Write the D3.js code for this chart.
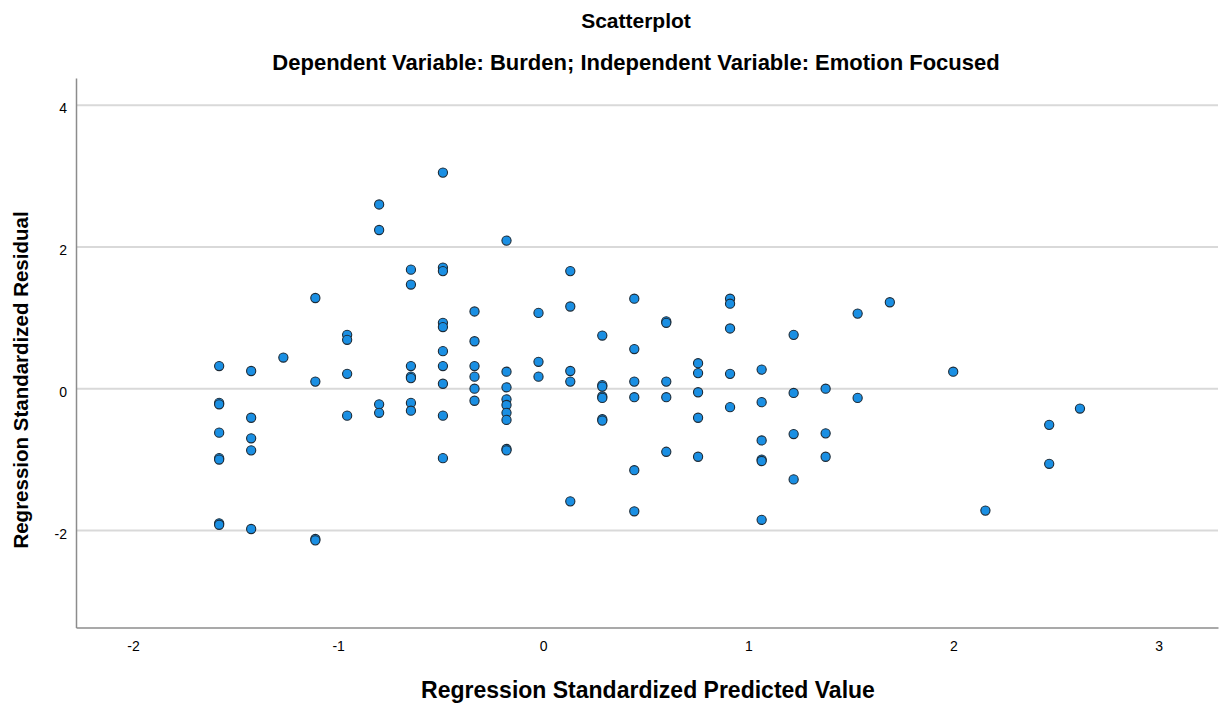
<!DOCTYPE html>
<html>
<head>
<meta charset="utf-8">
<script src="https://cdn.jsdelivr.net/npm/d3@7"></script>
<style>
html,body{margin:0;padding:0;background:#fff;}
text{font-family:"Liberation Sans",Arial,sans-serif;}
</style>
</head>
<body>
<svg id="chart" width="1221" height="704"></svg>
<script>
const title = "Scatterplot";
const subtitle = "Dependent Variable: Burden; Independent Variable: Emotion Focused";
const xTitle = "Regression Standardized Predicted Value";
const yTitle = "Regression Standardized Residual";
const xTicks = [-2, -1, 0, 1, 2, 3];
const yTicks = [-2, 0, 2, 4];
const xDomain = [-2.278, 3.29];
const yDomain = [-3.37, 4.385];

// predicted values (x) and residuals (y), one entry per case
const predicted = [
  -1.580,-1.580,-1.580,-1.580,-1.580,-1.580,-1.580,-1.580,
  -1.424,-1.424,-1.424,-1.424,-1.424,
  -1.267,
  -1.111,-1.111,-1.111,-1.111,
  -0.956,-0.956,-0.956,-0.956,
  -0.800,-0.800,-0.800,-0.800,
  -0.645,-0.645,-0.645,-0.645,-0.645,-0.645,-0.645,
  -0.489,-0.489,-0.489,-0.489,-0.489,-0.489,-0.489,-0.489,-0.489,-0.489,
  -0.335,-0.335,-0.335,-0.335,-0.335,-0.335,
  -0.179,-0.179,-0.179,-0.179,-0.179,-0.179,-0.179,-0.179,-0.179,
  -0.023,-0.023,-0.023,
  0.132,0.132,0.132,0.132,0.132,
  0.288,0.288,0.288,0.288,0.288,0.288,0.288,
  0.444,0.444,0.444,0.444,0.444,0.444,
  0.600,0.600,0.600,0.600,0.600,
  0.755,0.755,0.755,0.755,0.755,
  0.911,0.911,0.911,0.911,0.911,
  1.065,1.065,1.065,1.065,1.065,1.065,
  1.221,1.221,1.221,1.221,
  1.377,1.377,1.377,
  1.533,1.533,
  1.690,
  1.999,
  2.156,
  2.467,2.467,
  2.617
];
const residual = [
  0.32,-0.20,-0.22,-0.62,-0.98,-1.00,-1.90,-1.92,
  0.25,-0.41,-0.70,-0.87,-1.98,
  0.44,
  1.28,0.10,-2.12,-2.14,
  0.76,0.69,0.21,-0.38,
  2.60,2.24,-0.22,-0.34,
  1.68,1.47,0.32,0.17,0.15,-0.20,-0.31,
  3.05,1.71,1.66,0.93,0.87,0.53,0.32,0.07,-0.38,-0.98,
  1.09,0.67,0.32,0.17,0.00,-0.17,
  2.09,0.24,0.02,-0.15,-0.23,-0.34,-0.44,-0.85,-0.87,
  1.07,0.38,0.17,
  1.66,1.16,0.25,0.10,-1.59,
  0.75,0.05,0.03,-0.11,-0.13,-0.43,-0.45,
  1.27,0.56,0.10,-0.12,-1.15,-1.73,
  0.95,0.93,0.10,-0.12,-0.89,
  0.36,0.22,-0.05,-0.41,-0.96,
  1.27,1.20,0.85,0.21,-0.26,
  0.27,-0.19,-0.73,-1.00,-1.02,-1.85,
  0.76,-0.06,-0.64,-1.28,
  0.00,-0.63,-0.96,
  1.06,-0.13,
  1.22,
  0.24,
  -1.72,
  -0.51,-1.06,
  -0.28
];

const svg = d3.select("#chart");
const plotLeft = 76, plotRight = 1218, plotTop = 78, plotBottom = 627.5;

const x = d3.scaleLinear().domain(xDomain).range([plotLeft, plotRight]);
const y = d3.scaleLinear().domain(yDomain).range([plotBottom, plotTop]);
const fmt = d => String(d); // plain hyphen minus as in the original

// gridlines
svg.append("g").selectAll("line").data(yTicks).join("line")
  .attr("x1", plotLeft).attr("x2", plotRight)
  .attr("y1", d => y(d)).attr("y2", d => y(d))
  .attr("stroke", "#d9d9d9").attr("stroke-width", 2);

// axes
const yAxis = d3.axisLeft(y).tickValues(yTicks).tickSize(0).tickPadding(9).tickFormat(fmt);
const gy = svg.append("g").attr("transform", `translate(${plotLeft},0)`).call(yAxis);
gy.select(".domain").attr("stroke", "#8c8c8c").attr("stroke-width", 1.5);
gy.selectAll("text").attr("font-size", 14).attr("fill", "#000").attr("dy", "0.55em")
  .style("font-family", "'Liberation Sans', Arial, sans-serif");

const xAxis = d3.axisBottom(x).tickValues(xTicks).tickSize(0).tickPadding(14).tickFormat(fmt);
const gx = svg.append("g").attr("transform", `translate(0,${plotBottom})`).call(xAxis);
gx.select(".domain").attr("stroke", "#8c8c8c").attr("stroke-width", 1.5);
gx.selectAll("text").attr("font-size", 14).attr("fill", "#000")
  .style("font-family", "'Liberation Sans', Arial, sans-serif");

// points
const pts = predicted.map((p, i) => ({p, r: residual[i]}));
svg.append("g").selectAll("circle").data(pts).join("circle")
  .attr("cx", d => x(d.p)).attr("cy", d => y(d.r)).attr("r", 4.6)
  .attr("fill", "#1a8fe3").attr("stroke", "#1c2a36").attr("stroke-width", 1.1);

// titles
svg.append("text").attr("x", 636).attr("y", 28).attr("text-anchor", "middle")
  .attr("font-size", 21).attr("font-weight", "bold").text(title);
svg.append("text").attr("x", 636).attr("y", 70).attr("text-anchor", "middle")
  .attr("font-size", 22).attr("font-weight", "bold").text(subtitle);
svg.append("text").attr("x", 648).attr("y", 698).attr("text-anchor", "middle")
  .attr("font-size", 23).attr("font-weight", "bold").text(xTitle);
svg.append("text").attr("transform", "translate(28,380) rotate(-90)").attr("text-anchor", "middle")
  .attr("font-size", 20.5).attr("font-weight", "bold").text(yTitle);
</script>
</body>
</html>
